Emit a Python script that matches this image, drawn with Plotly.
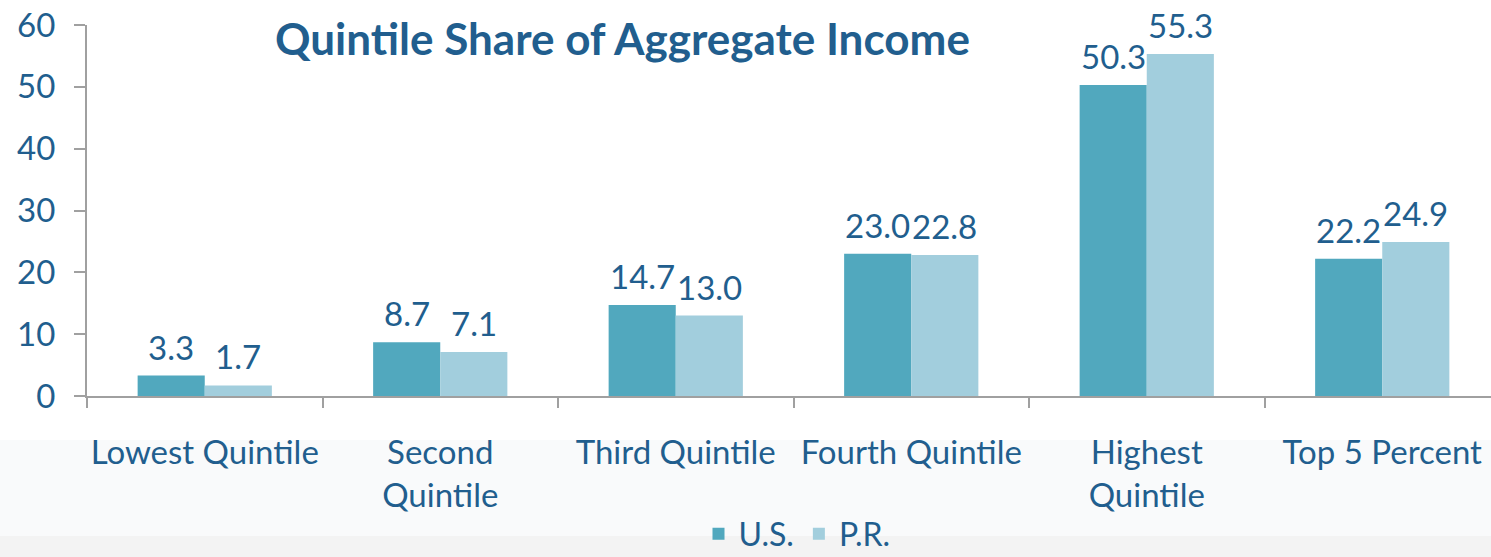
import plotly.graph_objects as go

categories = ["Lowest Quintile", "Second<br>Quintile", "Third Quintile",
              "Fourth Quintile", "Highest<br>Quintile", "Top 5 Percent"]
us_values = [3.3, 8.7, 14.7, 23.0, 50.3, 22.2]
pr_values = [1.7, 7.1, 13.0, 22.8, 55.3, 24.9]
series_names = ["U.S.", "P.R."]
y_ticks = [0, 10, 20, 30, 40, 50, 60]

TXT = "#215E8E"
AX = "#A0A0A0"
FONT = "Lato, 'Open Sans', sans-serif"
C_US = "#51A8BE"
C_PR = "#A2CEDD"

W, H = 1491, 557
L, T, B = 87, 25, 161
plot_w = W - L
ph = H - T - B
cat_px = 235.5
x_end = -0.5 + plot_w / cat_px


def py(pix):
    return (H - B - pix) / ph


def px(pix):
    return (pix - L) / plot_w


fig = go.Figure()
for name, vals, col in [(series_names[0], us_values, C_US), (series_names[1], pr_values, C_PR)]:
    fig.add_trace(go.Bar(name=name, x=categories, y=vals, marker=dict(color=col, line=dict(width=0))))

# data labels
bar_px = 67
for vals, shift in [(us_values, -bar_px / 2), (pr_values, bar_px / 2)]:
    for c, v in zip(categories, vals):
        fig.add_annotation(x=c, y=v, text=f"{v:.1f}", showarrow=False, xref="x", yref="y",
                           xshift=shift, yshift=7, yanchor="bottom",
                           font=dict(size=33, color=TXT, family=FONT))

fig.add_annotation(text="<b>Quintile Share of Aggregate Income</b>", x=px(622), y=py(38),
                   xref="paper", yref="paper", xanchor="center", yanchor="middle",
                   showarrow=False, font=dict(size=44, color=TXT, family=FONT))

# background bands
fig.add_shape(type="rect", xref="paper", yref="paper", x0=px(0), x1=px(W + 5),
              y0=py(H + 5), y1=py(440), fillcolor="#F9FAFB", line=dict(width=0), layer="below")
fig.add_shape(type="rect", xref="paper", yref="paper", x0=px(0), x1=px(W + 5),
              y0=py(H + 5), y1=py(536), fillcolor="#F3F3F3", line=dict(width=0), layer="below")

fig.update_layout(
    width=W, height=H,
    margin=dict(l=L, r=0, t=T, b=B, autoexpand=False),
    paper_bgcolor="white", plot_bgcolor="rgba(0,0,0,0)",
    barmode="group", bargap=0.43, bargroupgap=0,
    font=dict(family=FONT, color=TXT),
    showlegend=True,
    legend=dict(orientation="h", x=px(797), xanchor="center", y=py(534), yanchor="middle",
                font=dict(size=32, color=TXT, family=FONT), bgcolor="rgba(0,0,0,0)",
                itemwidth=30, tracegroupgap=0),
    xaxis=dict(range=[-0.5, x_end], showline=True, linecolor=AX, linewidth=2,
               ticks="outside", tickson="boundaries", ticklen=10, tickcolor=AX, tickwidth=2,
               tickangle=0,
               tickfont=dict(size=33, color=TXT, family=FONT), ticklabelstandoff=26,
               showgrid=False, zeroline=False, automargin=False),
    yaxis=dict(range=[0, 60], tickvals=y_ticks, showline=True, linecolor=AX, linewidth=2,
               ticks="outside", ticklen=11, tickcolor=AX, tickwidth=2,
               tickfont=dict(size=33, color=TXT, family=FONT), ticklabelstandoff=12,
               showgrid=False, zeroline=False, automargin=False),
)

fig.write_html("out.html", config={"displayModeBar": False},
               post_script="document.body.style.margin='0';document.body.style.overflow='hidden';")
